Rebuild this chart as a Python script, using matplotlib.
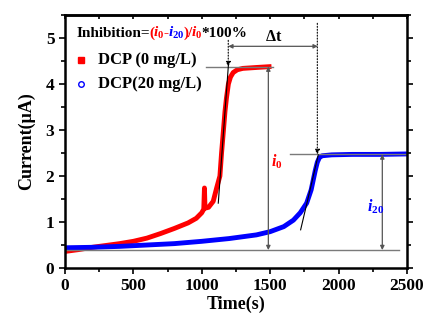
import numpy as np
import matplotlib as mpl
mpl.rcParams['font.family'] = 'Liberation Serif'
mpl.rcParams['font.weight'] = 'bold'
mpl.rcParams['mathtext.fontset'] = 'custom'
mpl.rcParams['mathtext.rm'] = 'Liberation Serif'
mpl.rcParams['mathtext.it'] = 'Liberation Serif:italic'
mpl.rcParams['mathtext.bf'] = 'Liberation Serif:bold'
from matplotlib import pyplot as plt
import matplotlib.ticker as ticker
import matplotlib.transforms as mtransforms

# DCP 0 mg/L
t_red = [0, 100, 200, 300, 400, 500, 600, 700, 800, 900, 960, 1000, 1015,
         1020, 1024, 1050, 1084, 1110, 1133, 1145, 1157, 1170, 1181, 1195,
         1210, 1230, 1260, 1300, 1400, 1510]
i_red = [0.36, 0.40, 0.45, 0.49, 0.53, 0.58, 0.65, 0.75, 0.86, 0.98, 1.08,
         1.20, 1.28, 1.74, 1.30, 1.32, 1.45, 1.75, 2.00, 2.50, 2.93, 3.40,
         3.70, 4.00, 4.15, 4.25, 4.31, 4.34, 4.36, 4.38]
# DCP 20 mg/L
t_blue = [0, 200, 400, 600, 800, 1000, 1200, 1400, 1500, 1600, 1670, 1720,
          1767, 1800, 1815, 1830, 1845, 1860, 1880, 1950, 2100, 2300, 2500]
i_blue = [0.44, 0.45, 0.47, 0.50, 0.53, 0.58, 0.64, 0.72, 0.79, 0.90, 1.04,
          1.20, 1.41, 1.70, 1.91, 2.12, 2.30, 2.40, 2.44, 2.46, 2.47, 2.47, 2.48]

i0_top, i20_top, base = 4.38, 2.47, 0.39
t_start0, t_start20 = 1194, 1848

fig = plt.figure(figsize=(4.27, 3.2), dpi=100)
ax = fig.add_axes([0.152, 0.1625, 0.801, 0.7905])

ax.plot(t_red, i_red, color='red', lw=3.5, solid_capstyle='butt')
ax.plot(t_blue, i_blue, color='blue', lw=3.5, solid_capstyle='butt')

gray = '#7a7a7a'
ax.plot([1030, 1520], [i0_top, i0_top], color=gray, lw=1)
ax.plot([1645, 2495], [i20_top, i20_top], color=gray, lw=1)
ax.plot([0, 2440], [base, base], color=gray, lw=1)
# tangents
ax.plot([1121, 1196], [1.41, 4.45], color='black', lw=0.8)
ax.plot([1723, 1852], [0.83, 2.46], color='black', lw=0.8)

arr = dict(arrowstyle='<|-|>', color='#555555', lw=0.9, mutation_scale=6,
           shrinkA=0, shrinkB=0)
ax.annotate('', xy=(1487, base), xytext=(1487, i0_top), arrowprops=arr)
ax.annotate('', xy=(2320, base), xytext=(2320, i20_top), arrowprops=arr)
ax.annotate('', xy=(t_start20, 4.82), xytext=(t_start0, 4.82), arrowprops=arr)
dot = dict(arrowstyle='-|>', color='black', lw=0.8, ls=':', mutation_scale=7,
           shrinkA=0, shrinkB=0)
ax.annotate('', xy=(t_start0, i0_top), xytext=(t_start0, 4.95), arrowprops=dot)
ax.annotate('', xy=(t_start20 - 3, i20_top), xytext=(t_start20 - 3, 5.32), arrowprops=dot)

ax.text(1523, 4.85, r'$\mathbf{\Delta t}$', fontsize=11.5, ha='center', va='bottom')
ax.text(1547, 2.31, r'$i_0$', color='red', fontsize=11.5, ha='center', va='center')
ax.text(2272, 1.33, r'$i_{20}$', color='blue', fontsize=11.5, ha='center', va='center')

# formula line, pieces placed one after another on a common baseline
parts = [('Inhibition=', 'black'), ('(', 'red'), (r'$i_0$', 'red'),
         ('-', 'red'), (r'$i_{20}$', 'blue'), (')/', 'red'),
         (r'$i_0$', 'red'), ('*100%', 'black')]
fig.canvas.draw()
renderer = fig.canvas.get_renderer()
dx = 0
for s, c in parts:
    tr = mtransforms.offset_copy(ax.transAxes, fig=fig, x=dx, y=0, units='dots')
    t = ax.text(0.035, 0.913, s, color=c, fontsize=11, transform=tr,
                va='baseline', ha='left')
    dx += t.get_window_extent(renderer).width - 1.0

# legend entries
ax.plot([0.046], [0.822], ls='none', marker='s', ms=4, color='red',
        transform=ax.transAxes)
ax.plot([0.046], [0.727], ls='none', marker='o', ms=4, mfc='none',
        mec='blue', mew=1, transform=ax.transAxes)
ax.text(0.097, 0.822, 'DCP (0 mg/L)', fontsize=12, va='center',
        transform=ax.transAxes)
ax.text(0.097, 0.727, 'DCP(20 mg/L)', fontsize=12, va='center',
        transform=ax.transAxes)

ax.set_xlim(0, 2500)
ax.set_ylim(0, 5.5)
ax.set_xticks(np.arange(0, 2501, 500))
ax.set_yticks(np.arange(0, 5.1, 1))
ax.xaxis.set_minor_locator(ticker.MultipleLocator(250))
ax.yaxis.set_minor_locator(ticker.MultipleLocator(0.5))
ax.tick_params(axis='x', which='both', direction='out', top=False,
               labelsize=12.5, width=1.2)
ax.tick_params(axis='y', which='both', direction='out', right=True,
               labelsize=12.5, width=1.2)
ax.tick_params(which='major', length=4)
ax.tick_params(which='minor', length=3)
top = ax.secondary_xaxis('top')
top.set_xticks(np.arange(0, 2501, 250))
top.tick_params(direction='in', length=3, width=1.2, labeltop=False)
top.spines['top'].set_linewidth(1.8)
for sp in ax.spines.values():
    sp.set_linewidth(1.8)
for lab in ax.get_xticklabels() + ax.get_yticklabels():
    lab.set_fontweight('bold')

ax.set_xlabel('Time(s)', fontsize=13, fontweight='bold', labelpad=1)
ax.set_ylabel('Current(μA)', fontsize=13, fontweight='bold', labelpad=8)

plt.savefig('out.png', dpi=100)
